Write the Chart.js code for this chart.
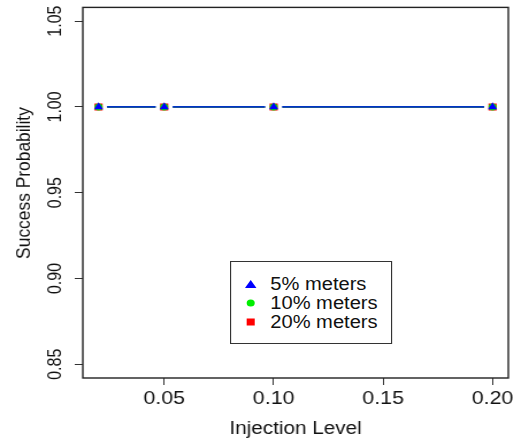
<!DOCTYPE html>
<html>
<head>
<meta charset="utf-8">
<script src="https://cdn.jsdelivr.net/npm/chart.js@4/dist/chart.umd.min.js"></script>
<style>
  html, body { margin: 0; padding: 0; background: #fff; overflow: hidden; }
  /* the reference is a little wider than tall, so the whole plot is stretched sideways */
  #wrap { position: relative; width: 454px; height: 443px; transform: scaleX(1.15); transform-origin: 0 0; }
  #legend { position: absolute; left: 200px; top: 261px; width: 141px; height: 83px;
            border: 1px solid #333; box-sizing: border-box; background: #fff;
            font-family: 'Liberation Sans', Arial, sans-serif; font-size: 17.5px; color: #111; }
  .row { position: absolute; left: 0; height: 19px; line-height: 19px; }
  .mk { position: absolute; left: 17px; top: 50%; transform: translate(-50%, -50%); }
  .txt { position: absolute; left: 34px; top: 0; white-space: nowrap; }
</style>
</head>
<body>
<div id="wrap">
  <canvas id="chart"></canvas>
  <div id="legend"></div>
</div>
<script>
/* ── DATA ─────────────────────────────────────────────── */
const injectionLevels = [0.02, 0.05, 0.10, 0.20];
const success5 = [1.00, 1.00, 1.00, 1.00];
const success10 = [1.00, 1.00, 1.00, 1.00];
const success20 = [1.00, 1.00, 1.00, 1.00];

const seriesLabels = ['5% meters', '10% meters', '20% meters'];
const seriesColors = ['#0000ff', '#00ee00', '#ff0000'];
const seriesShapes = ['triangle', 'circle', 'rect'];

const xTicks = [0.05, 0.10, 0.15, 0.20];
const yTicks = [0.85, 0.90, 0.95, 1.00, 1.05];
const xRange = [0.0128, 0.2072];
const yRange = [0.842, 1.058];

const FONT = "'Liberation Sans', Arial, sans-serif";

function pts(values) {
  return injectionLevels.map((x, i) => ({ x, y: values[i] }));
}

const seriesValues = [success5, success10, success20];
// overlapping lines blend a little in the reference, so the top (blue) one is not fully opaque
const lineColors = ['rgba(0,0,255,0.78)', seriesColors[1], seriesColors[2]];

/* lines first (bottom), then white gaps (R type="b"), then markers */
const lineSets = seriesValues.map((v, i) => ({
  data: pts(v),
  borderColor: lineColors[i],
  borderWidth: 1.7,
  pointRadius: 0,
  showLine: true,
  order: 10 + i
}));

const gapSet = {
  data: pts(success5),
  showLine: false,
  pointRadius: 7.4,
  pointHoverRadius: 7.4,
  pointBackgroundColor: '#ffffff',
  pointBorderWidth: 0,
  order: 5
};

const markerSizes = [4.6, 3.5, 5];
const markerSets = seriesValues.map((v, i) => ({
  data: pts(v),
  showLine: false,
  pointStyle: seriesShapes[i],
  pointRadius: markerSizes[i],
  pointHoverRadius: markerSizes[i],
  pointBackgroundColor: seriesColors[i],
  pointBorderWidth: 0,
  order: i
}));

/* ── R-STYLE FRAME + ROTATED Y LABELS ─────────────────── */
const rFrame = {
  id: 'rFrame',
  afterDraw(chart) {
    const { ctx, chartArea: a } = chart;
    const y = chart.scales.y;
    ctx.save();
    ctx.strokeStyle = '#222';
    ctx.lineWidth = 1.4;
    ctx.strokeRect(a.left, a.top, a.right - a.left, a.bottom - a.top);

    ctx.fillStyle = '#111';
    ctx.textAlign = 'center';
    ctx.textBaseline = 'middle';
    ctx.font = '16px ' + FONT;
    y.ticks.forEach(t => {
      ctx.save();
      ctx.translate(48.5, y.getPixelForValue(t.value));
      ctx.rotate(-Math.PI / 2);
      ctx.fillText(t.value.toFixed(2), 0, 0);
      ctx.restore();
    });

    ctx.font = '17.4px ' + FONT;
    ctx.save();
    ctx.translate(21.5, 183);
    ctx.rotate(-Math.PI / 2);
    ctx.fillText('Success Probability', 0, 0);
    ctx.restore();
    ctx.restore();
  }
};

/* ── CHART ────────────────────────────────────────────── */
new Chart(document.getElementById('chart'), {
  type: 'scatter',
  data: { datasets: [...markerSets, gapSet, ...lineSets] },
  options: {
    responsive: true,
    maintainAspectRatio: false,
    animation: false,
    events: [],
    layout: { padding: { left: 0, right: 12, top: 6, bottom: 0 } },
    plugins: { legend: { display: false }, tooltip: { enabled: false } },
    scales: {
      x: {
        type: 'linear',
        min: xRange[0], max: xRange[1],
        afterBuildTicks: s => { s.ticks = xTicks.map(value => ({ value })); },
        afterFit: s => { s.height = 65; },
        grid: { drawOnChartArea: false, drawTicks: true, tickLength: 7, color: '#333', lineWidth: 1 },
        border: { display: false },
        ticks: {
          padding: 3,
          color: '#111',
          font: { family: FONT, size: 18.6 },
          maxRotation: 0,
          callback: v => Number(v).toFixed(2)
        },
        title: {
          display: true,
          text: 'Injection Level',
          color: '#111',
          font: { family: FONT, size: 18 },
          padding: { top: 0, bottom: 3 }
        }
      },
      y: {
        type: 'linear',
        min: yRange[0], max: yRange[1],
        afterBuildTicks: s => { s.ticks = yTicks.map(value => ({ value })); },
        afterFit: s => { s.width = 72; },
        grid: { drawOnChartArea: false, drawTicks: true, tickLength: 7, color: '#333', lineWidth: 1 },
        border: { display: false },
        ticks: { display: false }
      }
    }
  },
  plugins: [rFrame]
});

/* ── LEGEND (box inside plot) ─────────────────────────── */
const legend = document.getElementById('legend');
const markerCss = [
  'width:0;height:0;border-left:5px solid transparent;border-right:5px solid transparent;border-bottom:8.5px solid ' + seriesColors[0],
  'width:7px;height:7px;border-radius:50%;background:' + seriesColors[1],
  'width:7px;height:7px;background:' + seriesColors[2]
];
seriesLabels.forEach((label, i) => {
  const row = document.createElement('div');
  row.className = 'row';
  row.style.top = (12.5 + i * 19) + 'px';
  row.style.width = '100%';
  row.innerHTML = '<div class="mk" style="' + markerCss[i] + '"></div><div class="txt">' + label + '</div>';
  legend.appendChild(row);
});
</script>
</body>
</html>
